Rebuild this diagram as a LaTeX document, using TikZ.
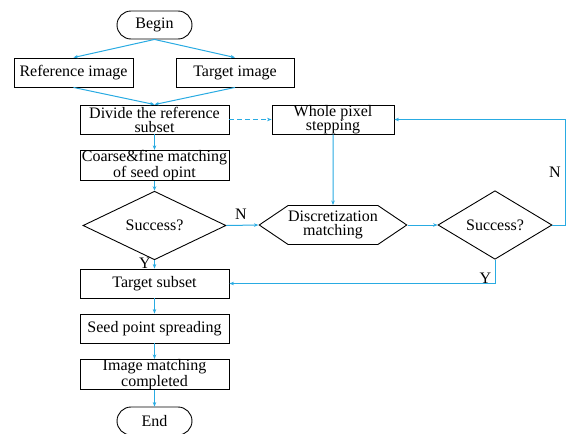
\documentclass[tikz,border=0pt]{standalone}
\usepackage{fontspec}
\setmainfont{Liberation Serif}
\usetikzlibrary{arrows.meta,shapes.geometric,shapes.symbols}
\definecolor{flowblue}{HTML}{29ABE2}

\tikzset{
  txt/.style={font=\fontsize{16}{14}\selectfont},
  box/.style={txt,draw,line width=0.9pt,inner sep=0pt,minimum height=29pt,align=center},
  term/.style={box,rounded corners=14pt,minimum width=75pt,minimum height=28pt},
  decision/.style={txt,diamond,draw,line width=0.9pt,inner sep=0pt},
  hexa/.style={txt,signal,signal to=east and west,signal pointer angle=68,draw,line width=0.9pt,inner sep=0pt,align=center},
  flow/.style={draw=flowblue,line width=1pt,-{Stealth[length=4.5pt,width=3.5pt]}},
}

\begin{document}
\begin{tikzpicture}[x=1pt,y=-1pt]
  \useasboundingbox (0,0) rectangle (566,434);
  % nodes
  \node[term] (begin) at (154.5,25) {Begin};
  \node[box,minimum width=119pt] (ref) at (73.5,72.5) {Reference image};
  \node[box,minimum width=118pt] (tgt) at (235,72.5) {Target image};
  \node[box,minimum width=149pt] (divide) at (154.5,119.5) {Divide the reference\\subset};
  \node[box,minimum width=122pt] (whole) at (333,119.5) {Whole pixel\\stepping};
  \node[box,minimum width=149pt] (coarse) at (154.5,165.5) {Coarse\&fine matching\\of seed opint};
  \node[decision,minimum width=143pt,minimum height=57pt] (succ1) at (154.5,225.5) {Success?};
  \node[hexa,minimum width=142pt,minimum height=39pt] (disc) at (333,225) {Discretization\\matching};
  \node[decision,minimum width=114pt,minimum height=46pt] (succ2) at (495,225) {Success?};
  \node[box,minimum width=149pt] (target) at (154.5,283.5) {Target subset};
  \node[box,minimum width=149pt] (seed) at (154.5,328.5) {Seed point spreading};
  \node[box,minimum width=149pt] (done) at (154.5,374.5) {Image matching\\completed};
  \node[term] (end) at (154.5,421) {End};
  % connectors
  \draw[flow] (begin.south) -- (ref.north);
  \draw[flow] (begin.south) -- (tgt.north);
  \draw[flow] (ref.south) -- (divide.north);
  \draw[flow] (tgt.south) -- (divide.north);
  \draw[flow,dash pattern=on 5pt off 3pt] (divide.east) -- (whole.west);
  \draw[flow] (divide) -- (coarse);
  \draw[flow] (coarse) -- (succ1);
  \draw[flow] (succ1.east) -- node[txt,above,pos=0.45,yshift=2pt] {N} (disc.west);
  \draw[flow] (succ1.south) -- node[txt,left,pos=0.35] {Y} (target.north);
  \draw[flow] (whole) -- (disc);
  \draw[flow] (disc.east) -- (succ2.west);
  \draw[flow] (succ2.east) -- ++(13,0) |- node[txt,pos=0.25,left,xshift=-1pt] {N} (whole.east);
  \draw[flow] (succ2.south) |- node[txt,pos=0.4,left] {Y} (target.east);
  \draw[flow] (target) -- (seed);
  \draw[flow] (seed) -- (done);
  \draw[flow] (done) -- (end);
\end{tikzpicture}
\end{document}
